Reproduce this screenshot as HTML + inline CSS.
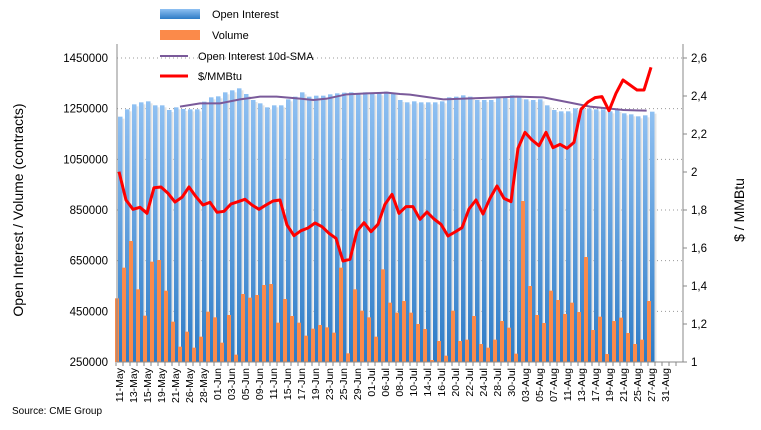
<!DOCTYPE html>
<html><head><meta charset="utf-8"><style>
body{margin:0;background:#fff;width:761px;height:425px;overflow:hidden;font-family:"Liberation Sans",Arial,sans-serif}
</style></head><body>
<svg id="s" width="761" height="425" viewBox="0 0 761 425" xmlns="http://www.w3.org/2000/svg" font-family="Liberation Sans, Arial, sans-serif">
<defs>
<linearGradient id="bg" x1="0" y1="0" x2="0" y2="1"><stop offset="0" stop-color="#8fc0f2"/><stop offset="1" stop-color="#2d7bc6"/></linearGradient>
</defs>
<g id="grid"></g>
<g id="bars"></g>
<g id="lines"></g>
<g id="axes" font-size="11.5" fill="#000"></g>
<!-- legend -->
<rect x="160" y="9" width="40" height="10" fill="url(#bg)"/>
<text x="212" y="18" font-size="11">Open Interest</text>
<rect x="160" y="30" width="40" height="10" fill="#fb8a4a"/>
<text x="212" y="39" font-size="11">Volume</text>
<line x1="160" y1="56" x2="188" y2="56" stroke="#7a5a9a" stroke-width="2"/>
<text x="198" y="60" font-size="11">Open Interest 10d-SMA</text>
<line x1="160" y1="76" x2="188" y2="76" stroke="#ff0000" stroke-width="3"/>
<text x="198" y="80" font-size="11">$/MMBtu</text>
<text transform="translate(23,210) rotate(-90)" text-anchor="middle" font-size="14">Open Interest / Volume (contracts)</text>
<text transform="translate(744,210) rotate(-90)" text-anchor="middle" font-size="14">$ / MMBtu</text>
<text x="12" y="414" font-size="10">Source: CME Group</text>
</svg>
<script>
var NS="http://www.w3.org/2000/svg";
function el(p,t,a,txt){var e=document.createElementNS(NS,t);for(var k in a)e.setAttribute(k,a[k]);if(txt!=null)e.textContent=txt;document.getElementById(p).appendChild(e);return e;}
var L=117,R=683,T=58,B=362;
// grid + left labels
var lt=["1450000","1250000","1050000","850000","650000","450000","250000"];
for(var i=0;i<7;i++){var y=T+i*(B-T)/6;
 if(i<6)el("grid","line",{x1:L,x2:R,y1:y,y2:y,stroke:"#999","stroke-dasharray":"1,3"});
 el("axes","text",{x:108,y:y+4,"text-anchor":"end"},lt[i]);}
var rt=["2,6","2,4","2,2","2","1,8","1,6","1,4","1,2","1"];
for(i=0;i<9;i++){var y=T+i*(B-T)/8;el("axes","text",{x:691,y:y+4},rt[i]);el("axes","line",{x1:R,x2:R+4,y1:y,y2:y,stroke:"#888"});}
el("axes","line",{x1:L,x2:L,y1:44,y2:B,stroke:"#888"});
el("axes","line",{x1:R,x2:R,y1:44,y2:B,stroke:"#888"});
el("axes","line",{x1:L,x2:R,y1:B,y2:B,stroke:"#888"});
var oi=[230,208,193,187,184,196,196,210,202,207,208,208,185,172,169,157,151,145,162,180,190,202,196,196,178,170,157,170,167,167,163,160,158,157,160,157,160,160,155,158,180,187,184,187,187,187,184,172,170,166,170,180,180,180,170,172,166,170,178,180,178,196,210,214,214,205,202,205,208,208,214,210,220,223,229,226,215];
var vol=[775,683,603,748,827,665,660,752,845,920,875,923,890,815,832,908,825,944,762,773,765,735,732,848,777,828,848,887,866,855,862,878,683,940,748,812,832,890,688,788,818,783,818,852,867,960,903,947,812,903,899,828,912,923,899,843,863,941,483,738,825,849,752,780,822,788,816,651,870,830,942,843,833,879,912,899,783];
var pr=[171.7,200,209.3,207.3,213.3,187.7,187,193.3,202,197.3,187,196.7,205,202.3,212.3,211.3,204,201.7,199.3,205,209.3,205,201,200,225,235.7,230.7,228,223,226.7,233.3,238.3,261,259.3,231,222.7,231.7,224.3,204.3,194.3];
var pz=[520,500,500,538,516,537,553,588,576,563,507,480,522,475,438,475,485,325,277,300,317,277,323,313,325,307,208,186,173,170,212,160,120,135,150,150,82];
pz.forEach(function(z){pr.push(40+z/3);});
var n=77;
for(i=0;i<n;i++){var c=119+7*i;
 var yo=40+oi[i]/3;el("bars","rect",{x:c-1,y:yo,width:4.5,height:B-yo,fill:"url(#bg)"});
 el("bars","rect",{x:c+3.5,y:yo+2,width:2,height:B-yo-2,fill:"#e4e4e4"});
 var yv=40+vol[i]/3;if(yv<B)el("bars","rect",{x:c-4,y:yv,width:4,height:B-yv,fill:"#fb8a4a"});}
var pts=[];for(i=0;i<pr.length;i++)pts.push((119+7*i)+","+pr[i]);
var sm=[[240,200],[300,190],[360,190],[420,178],[480,170],[530,170],[600,176],[640,180],[680,176],[740,163],[800,160],[860,158],[900,162]].map(function(p){return (100+p[0]/3)+","+(40+p[1]/3);});
[[60,164],[160,178],[380,170],[460,172],[540,188],[600,200],[660,206],[700,210],[770,212]].forEach(function(p){sm.push((390+p[0]/3)+","+(40+p[1]/3));});
el("lines","polyline",{points:sm.join(" "),fill:"none",stroke:"#7a5a9a","stroke-width":2});
el("lines","polyline",{points:pts.join(" "),fill:"none",stroke:"#ff0000","stroke-width":3,"stroke-linejoin":"round"});
// x ticks and labels
var lab=["11-May","13-May","15-May","19-May","21-May","26-May","28-May","01-Jun","03-Jun","05-Jun","09-Jun","11-Jun","15-Jun","17-Jun","19-Jun","23-Jun","25-Jun","29-Jun","01-Jul","06-Jul","08-Jul","10-Jul","14-Jul","16-Jul","20-Jul","22-Jul","24-Jul","28-Jul","30-Jul","03-Aug","05-Aug","07-Aug","11-Aug","13-Aug","17-Aug","19-Aug","21-Aug","25-Aug","27-Aug","31-Aug"];
for(i=0;i<81;i++){var x=116+7*i;if(x>R)break;el("axes","line",{x1:x,x2:x,y1:B,y2:B+4,stroke:"#888"});}
for(i=0;i<lab.length;i++){var x=119+14*i+4;el("axes","text",{transform:"translate("+x+",368) rotate(-90)","text-anchor":"end","font-size":"10.5"},lab[i]);}
</script>
</body></html>
